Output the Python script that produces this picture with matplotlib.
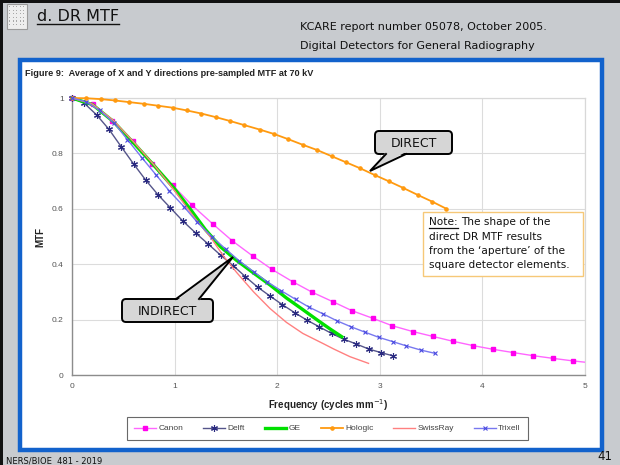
import matplotlib
matplotlib.use('Agg')
import matplotlib.pyplot as plt
from matplotlib.patches import Rectangle, FancyBboxPatch, Polygon
from matplotlib.lines import Line2D

# ---------------- data ----------------
canon_x = [0, 0.20, 0.39, 0.59, 0.78, 0.98, 1.17, 1.37, 1.56, 1.76, 1.95, 2.15, 2.34, 2.54,
           2.73, 2.93, 3.12, 3.32, 3.52, 3.71, 3.91, 4.10, 4.30, 4.49, 4.69, 4.88, 5.08]
canon_y = [1.0, 0.977, 0.918, 0.844, 0.763, 0.685, 0.613, 0.546, 0.485, 0.430, 0.381, 0.337,
           0.299, 0.265, 0.232, 0.205, 0.178, 0.157, 0.139, 0.122, 0.106, 0.093, 0.081,
           0.070, 0.060, 0.051, 0.043]

delft_x = [0, 0.12, 0.24, 0.36, 0.48, 0.60, 0.72, 0.84, 0.96, 1.08, 1.21, 1.33, 1.45, 1.57,
           1.69, 1.81, 1.93, 2.05, 2.17, 2.29, 2.41, 2.53, 2.65, 2.77, 2.89, 3.01, 3.13]
delft_y = [1.0, 0.981, 0.939, 0.887, 0.824, 0.762, 0.703, 0.650, 0.603, 0.556, 0.511, 0.472,
           0.432, 0.395, 0.355, 0.317, 0.285, 0.254, 0.225, 0.198, 0.174, 0.150, 0.129,
           0.112, 0.094, 0.081, 0.069]

ge_x = [0, 0.2, 0.4, 0.6, 0.8, 1.0, 1.15, 1.3, 1.45, 1.6, 1.77, 1.93, 2.09, 2.25, 2.4, 2.52, 2.63]
ge_y = [1.0, 0.976, 0.916, 0.838, 0.756, 0.672, 0.600, 0.525, 0.462, 0.415, 0.368, 0.325,
        0.278, 0.236, 0.196, 0.165, 0.138]

hologic_x = [0, 0.14, 0.28, 0.42, 0.56, 0.70, 0.84, 0.98, 1.12, 1.26, 1.40, 1.54, 1.68, 1.83,
             1.97, 2.11, 2.25, 2.39, 2.53, 2.67, 2.81, 2.95, 3.09, 3.23, 3.37, 3.51, 3.65]
hologic_y = [1.0, 0.999, 0.996, 0.991, 0.985, 0.979, 0.972, 0.965, 0.955, 0.944, 0.931, 0.917,
             0.902, 0.886, 0.870, 0.851, 0.831, 0.812, 0.790, 0.768, 0.746, 0.722, 0.699,
             0.675, 0.650, 0.626, 0.600]

swiss_x = [0, 0.2, 0.4, 0.6, 0.8, 1.0, 1.2, 1.345, 1.475, 1.605, 1.77, 1.93, 2.09, 2.25,
           2.45, 2.55, 2.71, 2.89]
swiss_y = [1.0, 0.978, 0.920, 0.842, 0.758, 0.665, 0.565, 0.500, 0.430, 0.370, 0.300, 0.240,
           0.190, 0.150, 0.113, 0.094, 0.066, 0.042]

trixell_x = [0, 0.14, 0.27, 0.41, 0.54, 0.68, 0.82, 0.95, 1.09, 1.22, 1.36, 1.50, 1.63, 1.77,
             1.90, 2.04, 2.18, 2.31, 2.45, 2.58, 2.72, 2.86, 2.99, 3.13, 3.26, 3.40, 3.54]
trixell_y = [1.0, 0.986, 0.955, 0.910, 0.850, 0.785, 0.722, 0.664, 0.608, 0.552, 0.500, 0.454,
             0.412, 0.373, 0.337, 0.304, 0.273, 0.245, 0.220, 0.196, 0.174, 0.154, 0.136,
             0.120, 0.105, 0.090, 0.078]

x_ticks = [0, 1, 2, 3, 4, 5]
y_ticks = [0, 0.2, 0.4, 0.6, 0.8, 1]
y_ticklabels = ['0', '0.2', '0.4', '0.6', '0.8', '1']

# ---------------- figure ----------------
W, H = 620, 465
fig = plt.figure(figsize=(6.2, 4.65), dpi=100)
fig.patch.set_facecolor('#c8cbcf')

SLIDE_FONT = 'DejaVu Sans'
CHART_FONT = 'Liberation Sans'

bg = fig.add_axes([0, 0, 1, 1])
bg.set_xlim(0, W); bg.set_ylim(H, 0); bg.axis('off'); bg.set_zorder(0)

# slide border lines (top / left)
bg.add_patch(Rectangle((0, 0), W, 3, color='#111111', lw=0))
bg.add_patch(Rectangle((0, 0), 2.5, H, color='#111111', lw=0))
# icon
bg.add_patch(Rectangle((7, 4), 20, 25, facecolor='#eeeeee', edgecolor='#9a9a9a', lw=0.8))
for i in range(5):
    for j in range(6):
        bg.add_patch(Rectangle((9 + i * 3.5, 6 + j * 3.6), 1.2, 1.2, color='#a8a8a8', lw=0))

# blue frame with white interior
bg.add_patch(Rectangle((20, 60), 582, 390, facecolor='white', edgecolor='#1262cc', lw=3.2))

t1 = bg.text(37, 21, 'd. DR MTF', fontsize=11.5, family=SLIDE_FONT, color='#111111',
             va='baseline', ha='left')
bg.text(300, 30, 'KCARE report number 05078, October 2005.', fontsize=8, family=SLIDE_FONT,
        color='#111111', va='baseline')
bg.text(300, 49, 'Digital Detectors for General Radiography', fontsize=8, family=SLIDE_FONT,
        color='#111111', va='baseline')
bg.text(25, 76, 'Figure 9:  Average of X and Y directions pre-sampled MTF at 70 kV',
        fontsize=6.6, family=CHART_FONT, fontweight='bold', color='#222222', va='baseline')
bg.text(6, 463, 'NERS/BIOE  481 - 2019', fontsize=6, family=SLIDE_FONT, color='#111111',
        va='baseline')
bg.text(612, 460, '41', fontsize=8.5, family=SLIDE_FONT, color='#111111', va='baseline',
        ha='right')

# ---------------- chart ----------------
ax = fig.add_axes([72 / W, 1 - 375 / H, (585 - 72) / W, (375 - 98) / H])
ax.set_zorder(1)
ax.set_xlim(0, 5); ax.set_ylim(0, 1)
ax.set_xticks(x_ticks)
ax.set_yticks(y_ticks)
ax.set_yticklabels(y_ticklabels)
ax.grid(True, color='#dcdcdc', lw=0.8)
ax.set_axisbelow(True)
ax.tick_params(length=0, labelsize=6, labelcolor='#555555', pad=6)
for lbl in ax.get_xticklabels() + ax.get_yticklabels():
    lbl.set_family(CHART_FONT)
for s in ['left', 'bottom']:
    ax.spines[s].set_color('#8c8c8c'); ax.spines[s].set_linewidth(1.0)
for s in ['top', 'right']:
    ax.spines[s].set_color('#d8d8d8'); ax.spines[s].set_linewidth(0.9)
ax.set_ylabel('MTF', fontsize=7, fontweight='bold', family=CHART_FONT, color='#222222',
              labelpad=5)
ax.set_xlabel('Frequency (cycles mm$^{-1}$)', fontsize=7, fontweight='bold',
              family=CHART_FONT, color='#222222', labelpad=5)

canon_col, canon_mk = '#ff66ff', '#ff00ee'
delft_col, delft_mk = '#55558a', '#2a2a80'
ge_col = '#00e000'
hol_col = '#ff9a10'
swiss_col = '#ff8080'
trix_col, trix_mk = '#7878f0', '#4a4ae0'

ax.plot(canon_x, canon_y, color=canon_col, lw=1.0, zorder=3)
ax.plot(canon_x[:-1], canon_y[:-1], ls='none', marker='s', ms=3.0, color=canon_mk,
        clip_on=False, zorder=3)
ax.plot(delft_x, delft_y, color=delft_col, lw=1.0, marker=(6, 2, 0), ms=5,
        mec=delft_mk, mew=0.8, clip_on=False, zorder=4)
ax.plot(ge_x, ge_y, color=ge_col, lw=2.4, clip_on=False, zorder=5)
ax.plot(hologic_x, hologic_y, color=hol_col, lw=1.3, marker='o', ms=2.3, mec=hol_col,
        clip_on=False, zorder=6)
ax.plot(swiss_x, swiss_y, color=swiss_col, lw=1.0, clip_on=False, zorder=7)
ax.plot(trixell_x, trixell_y, color=trix_col, lw=1.0, marker='x', ms=2.6, mec=trix_mk,
        mew=0.8, clip_on=False, zorder=8)

handles = [
    Line2D([], [], color=canon_col, lw=1.0, marker='s', ms=3.0, mfc=canon_mk, mec=canon_mk),
    Line2D([], [], color=delft_col, lw=1.0, marker=(6, 2, 0), ms=5, mec=delft_mk, mew=0.8),
    Line2D([], [], color=ge_col, lw=2.4),
    Line2D([], [], color=hol_col, lw=1.3, marker='o', ms=2.3, mfc=hol_col, mec=hol_col),
    Line2D([], [], color=swiss_col, lw=1.0),
    Line2D([], [], color=trix_col, lw=1.0, marker='x', ms=2.6, mec=trix_mk, mew=0.8),
]
labels = ['Canon', 'Delft', 'GE', 'Hologic', 'SwissRay', 'Trixell']
leg = fig.legend(handles, labels, ncol=6, loc='center',
                 bbox_to_anchor=((127 + 528) / 2 / W, 1 - 428.5 / H),
                 frameon=True, fancybox=False, edgecolor='#444444',
                 prop={'family': CHART_FONT, 'size': 6},
                 handlelength=2.6, handletextpad=0.3, columnspacing=2.4,
                 borderpad=0.9)
leg.get_frame().set_linewidth(0.8)
for t in leg.get_texts():
    t.set_color('#444444')

# ---------------- overlay callouts ----------------
ov = fig.add_axes([0, 0, 1, 1])
ov.set_xlim(0, W); ov.set_ylim(H, 0); ov.axis('off'); ov.set_zorder(3)
ov.patch.set_visible(False)


def callout(x0, y0, x1, y1, base, tip, text):
    box = FancyBboxPatch((x0, y0), x1 - x0, y1 - y0,
                         boxstyle='round,pad=0,rounding_size=4',
                         facecolor='#d6d6d6', edgecolor='black', lw=1.4, zorder=1)
    ov.add_patch(box)
    (bx0, by), (bx1, _) = base
    inward = 2 if by <= y0 + 1 else -2
    ov.add_patch(Polygon([(bx0, by + inward), tip, (bx1, by + inward)], closed=True,
                         facecolor='#d6d6d6', edgecolor='none', zorder=2))
    ov.plot([bx0, tip[0], bx1], [by, tip[1], by], color='black', lw=1.4, zorder=3,
            solid_joinstyle='miter')
    ov.text((x0 + x1) / 2, (y0 + y1) / 2 + 0.5, text, ha='center', va='center',
            fontsize=9, family=SLIDE_FONT, color='#111111', zorder=4)


callout(375, 131, 452, 154, [(386, 154), (406, 154)], (370, 171), 'DIRECT')
callout(122, 299, 213, 322, [(176, 299), (199, 299)], (233, 257), 'INDIRECT')

# note box
ov.add_patch(Rectangle((423, 212), 160, 64, facecolor='white', edgecolor='#f6c878', lw=1.0))
note_lines = ['direct DR MTF results', "from the \u2018aperture\u2019 of the",
              'square detector elements.']
nt = ov.text(429, 225, 'Note:', fontsize=7.6, family=SLIDE_FONT, color='#111111',
             va='baseline')
fig.canvas.draw()
r = fig.canvas.get_renderer()
bb = nt.get_window_extent(r)
inv = ov.transData.inverted()
(nx0, ny0), (nx1, ny1) = inv.transform([[bb.x0, bb.y0], [bb.x1, bb.y1]])
ov.plot([nx0, nx1], [227.5, 227.5], color='#111111', lw=0.9)
ov.text(nx1 + 3, 225, 'The shape of the', fontsize=7.6, family=SLIDE_FONT,
        color='#111111', va='baseline')
for k, line in enumerate(note_lines):
    ov.text(429, 239.5 + k * 14.3, line, fontsize=7.6, family=SLIDE_FONT, color='#111111',
            va='baseline')

# underline the slide title
bb = t1.get_window_extent(r)
inv = bg.transData.inverted()
(tx0, _), (tx1, _) = inv.transform([[bb.x0, bb.y0], [bb.x1, bb.y1]])
bg.plot([tx0, tx1], [24, 24], color='#111111', lw=1.0)

fig.savefig('out.png', dpi=100, facecolor=fig.get_facecolor())
